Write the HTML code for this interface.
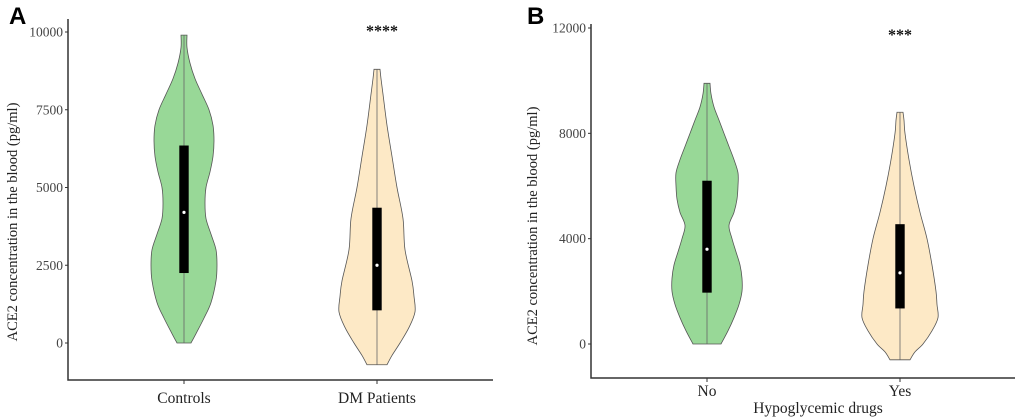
<!DOCTYPE html>
<html><head><meta charset="utf-8"><style>
html,body{margin:0;padding:0;background:#fff;}
svg{display:block;font-family:"Liberation Serif",serif;}
</style></head><body>
<svg id="chart" width="1020" height="418"></svg>
<script>
// Panel A data
const aCategories = ["Controls", "DM Patients"];
const aTicks = [0, 2500, 5000, 7500, 10000];
const aCtrlVals = [0,300,800,1300,2000,2500,3000,3500,4000,4500,5000,5500,6000,6500,7000,7500,8000,8500,9000,9500,9900];
const aCtrlDens = [7,12,20,27,32,33,32,27,22,21,22,26,29,30,29,25,18,11,6,3,3];
const aDmVals = [-700,-400,0,500,1000,1500,2000,3000,4000,5000,6000,7000,8000,8500,8800];
const aDmDens = [10,15,23,32,38,37,35,28,26,20,15,10,6,4,3];
const aCtrlBox = [2250, 4200, 6350];
const aDmBox = [1050, 2500, 4350];
// Panel B data
const bCategories = ["No", "Yes"];
const bTicks = [0, 4000, 8000, 12000];
const bNoVals = [0,500,1000,1500,2000,2500,3000,3500,4000,4500,5000,5500,6000,6500,7000,7500,8000,8500,9000,9500,9900];
const bNoDens = [14,21,27,32,35,35,33,29,25,22,27,30,31,31,27,22,17,12,7,4,3];
const bYesVals = [-600,-300,0,500,1000,1500,2000,3000,4000,5000,6000,7000,8000,8500,8800];
const bYesDens = [10,15,23,32,38,37,36,32,27,20,14,9,5,4,3];
const bNoBox = [1950, 3600, 6200];
const bYesBox = [1350, 2700, 4550];

const svg = document.getElementById('chart');
const NS = 'http://www.w3.org/2000/svg';
function mk(tag, attrs, parent){const e=document.createElementNS(NS,tag);for(const k in attrs)e.setAttribute(k,attrs[k]);(parent||svg).appendChild(e);return e;}
function smooth(pts){ // catmull-rom through points
  let d=`M${pts[0][0]},${pts[0][1]}`;
  for(let i=0;i<pts.length-1;i++){
    const p0=pts[Math.max(0,i-1)],p1=pts[i],p2=pts[i+1],p3=pts[Math.min(pts.length-1,i+2)];
    const c1=[p1[0]+(p2[0]-p0[0])/6,p1[1]+(p2[1]-p0[1])/6];
    const c2=[p2[0]-(p3[0]-p1[0])/6,p2[1]-(p3[1]-p1[1])/6];
    d+=` C${c1[0]},${c1[1]} ${c2[0]},${c2[1]} ${p2[0]},${p2[1]}`;
  }
  return d;
}

function panel(cfg){
  const g = mk('g',{});
  
  
  const y = v => cfg.y0 + v * (cfg.yTop - cfg.y0) / cfg.vTop;
  const ax = mk('path',{d:`M${cfg.xL} ${cfg.yTopAxis} V${cfg.yB} H${cfg.xR}`,stroke:'#333',fill:'none','stroke-width':1.5},g);
  
  
  cfg.ticks.forEach(t=>{
    mk('line',{x1:cfg.xL-3,x2:cfg.xL,y1:y(t),y2:y(t),stroke:'#333'},g);
    const tx = mk('text',{x:cfg.xL-5,y:y(t)+4.5,'text-anchor':'end','font-size':13.5,fill:'#444'},g);
    tx.textContent = t;
    
    
  });
  cfg.series.forEach((s,i)=>{
    const cx = cfg.cx[i];
    mk('line',{x1:cx,x2:cx,y1:cfg.yB,y2:cfg.yB+4,stroke:'#333'},g);
    const right = s.vals.map((v,k)=>[cx + s.dens[k], y(v)]);
    const left = s.vals.map((v,k)=>[cx - s.dens[k], y(v)]).reverse();
    const d = smooth(right) + ' L' + smooth(left).slice(1) + ' Z';
    const p = mk('path',{d:d,fill:s.color,stroke:'#555','stroke-width':0.8},g);
    
    
    mk('line',{x1:cx,x2:cx,y1:y(s.vals[0]),y2:y(s.vals[s.vals.length-1]),stroke:'#666','stroke-width':0.8},g);
    const b = mk('rect',{x:cx-4.7,y:y(s.box[2]),width:9.4,height:y(s.box[0])-y(s.box[2]),fill:'#000'},g);
    
    
    const m = mk('circle',{cx:cx,cy:y(s.box[1]),r:1.6,fill:'#fff'},g);
    
    
    const lb = mk('text',{x:cx,y:cfg.labY,'text-anchor':'middle','font-size':15.5,fill:'#222'},g);
    lb.textContent = cfg.cats[i];
    
    
  });
  const yt = mk('text',{transform:`translate(${cfg.ytX},${cfg.ytY}) rotate(-90)`,'text-anchor':'middle','font-size':14.5,fill:'#222'},g);
  yt.textContent = 'ACE2 concentration in the blood (pg/ml)';
  
  
  const st = mk('text',{x:cfg.starX,y:cfg.starY,'text-anchor':'middle','font-size':16,'font-weight':'bold',fill:'#111'},g);
  st.textContent = cfg.stars;
  
  
  const pl = mk('text',{x:cfg.plX,y:24,'font-size':24,'font-weight':'bold','font-family':'Liberation Sans, sans-serif',fill:'#000'},g);
  pl.textContent = cfg.letter;
  
  
  return g;
}

panel({name:'panel-a',letter:'A',plX:9,xL:68,xR:493,yB:380,yTopAxis:19,y0:343,yTop:32,vTop:10000,ticks:aTicks,
  cats:aCategories,cx:[184,377],labY:403,ytX:17,ytY:222,starX:382,starY:36,stars:'****',
  series:[{vals:aCtrlVals,dens:aCtrlDens,box:aCtrlBox,color:'#98d897'},{vals:aDmVals,dens:aDmDens,box:aDmBox,color:'#fde9c6'}]});
const gb = panel({name:'panel-b',letter:'B',plX:527,xL:591,xR:1015,yB:378,yTopAxis:24,y0:344,yTop:28,vTop:12000,ticks:bTicks,
  cats:bCategories,cx:[707,900],labY:396,ytX:537,ytY:226,starX:900,starY:40,stars:'***',
  series:[{vals:bNoVals,dens:bNoDens,box:bNoBox,color:'#98d897'},{vals:bYesVals,dens:bYesDens,box:bYesBox,color:'#fde9c6'}]});
const xt = mk('text',{x:818,y:413,'text-anchor':'middle','font-size':15.5,fill:'#222'},gb);
xt.textContent = 'Hypoglycemic drugs';


</script>
</body></html>
